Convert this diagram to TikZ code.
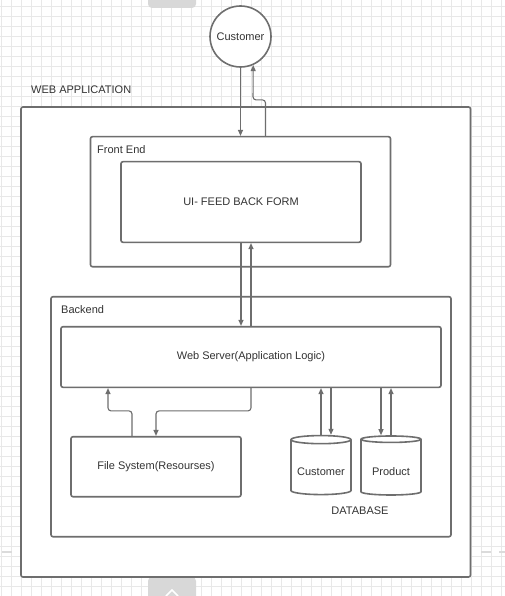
\documentclass[tikz,border=0pt]{standalone}
\usepackage{fontspec}
\setmainfont{Liberation Sans}
\usetikzlibrary{arrows.meta}
\usetikzlibrary{shapes.geometric}

\definecolor{linegray}{HTML}{6E6E6E}
\definecolor{textgray}{HTML}{333333}
\definecolor{gridgray}{HTML}{E8E8E8}
\definecolor{tabgray}{HTML}{D8D8D8}

\tikzset{
  box/.style={draw=linegray, line width=1.6pt, rounded corners=2pt, fill=white, text=textgray, inner sep=0pt},
  dbstore/.style={draw=linegray, line width=1.6pt, fill=white, text=textgray, cylinder, shape border rotate=90, aspect=0.17, minimum width=60pt, minimum height=59pt, inner sep=0pt},
  conn/.style={draw=linegray, line width=1.1pt, ->, >={Triangle[length=6pt,width=5pt]}, rounded corners=3pt},
  lbl/.style={text=textgray, inner sep=0pt}
}

\begin{document}
\begin{tikzpicture}[x=1pt, y=-1pt, font=\fontsize{11}{13}\selectfont]
\useasboundingbox (0,0) rectangle (505,596);
% grid
\foreach \gx in {0,...,50} {
  \draw[gridgray, line width=0.45pt] ({\gx*10+1.7},0) --++(0,596);
}
\foreach \gy in {0,...,59} {
  \draw[gridgray, line width=0.45pt] (0,{\gy*10+6}) --++(505,0);
}
\fill[tabgray, rounded corners=4pt] (148,-10) rectangle (196,8);
\fill[tabgray, rounded corners=4pt] (148,577) rectangle (196,606);
\draw[white, line width=1.5pt] (166,596) -- (172,590) -- (178,596);
\draw[linegray!25, line width=1.5pt] (2,552) --++(10,0) (481,552) --++(10,0) (499,552) --++(6,0);

\node[box, circle, minimum size=61pt] (customer) at (240.5,36.5) {Customer};
\node[lbl, anchor=west] (webapplbl) at (31,90) {WEB APPLICATION};
\node[box, minimum width=449.5pt, minimum height=470pt] (webapp) at (245.75,342) {};

\node[box, minimum width=300pt, minimum height=130pt] (frontend) at (240.5,201.7) {};
\node[lbl, anchor=west] (frontendlbl) at (97,150) {Front End};
\node[box, minimum width=240pt, minimum height=80.6pt] (uiform) at (241,202) {UI- FEED BACK FORM};

\node[box, minimum width=400pt, minimum height=240pt] (backend) at (251,416.7) {};
\node[lbl, anchor=west] (backendlbl) at (61,310) {Backend};
\node[box, minimum width=380pt, minimum height=60.6pt] (webserver) at (251,357) {Web Server(Application Logic)};
\node[box, minimum width=170pt, minimum height=60pt] (filesys) at (156,466.7) {File System(Resourses)};
\node[dbstore] (custdb) at (321,467.5) {\raisebox{-7.5pt}[0pt][0pt]{Customer}};
\node[dbstore] (proddb) at (391,467.5) {\raisebox{-7.5pt}[0pt][0pt]{Product}};
\node[lbl] (dblbl) at (360,511) {DATABASE};

% customer <-> front end
\draw[conn] (customer.south) -- (customer.south |- frontend.north);
\draw[conn] ([xshift=25pt]frontend.north) -- ++(0,-36) -- ++(-12.5,0) -- (customer.-66.5);
% front end <-> web server
\draw[conn] (uiform.south) -- (uiform.south |- webserver.north);
\draw[conn] (webserver.north) -- (webserver.north |- uiform.south);
% web server <-> file system
\draw[conn] (webserver.south) |- ([yshift=25pt]filesys.north) -- (filesys.north);
\draw[conn] ([xshift=-24pt]filesys.north) -- ++(0,-25) -| ([xshift=-143pt]webserver.south);
% web server <-> database
\draw[conn] (custdb.north) -- (custdb.north |- webserver.south);
\draw[conn] ([xshift=10pt]custdb.north |- webserver.south) -- ([xshift=10pt]custdb.north);
\draw[conn] ([xshift=-10pt]proddb.north |- webserver.south) -- ([xshift=-10pt]proddb.north);
\draw[conn] (proddb.north) -- (proddb.north |- webserver.south);
\end{tikzpicture}
\end{document}
